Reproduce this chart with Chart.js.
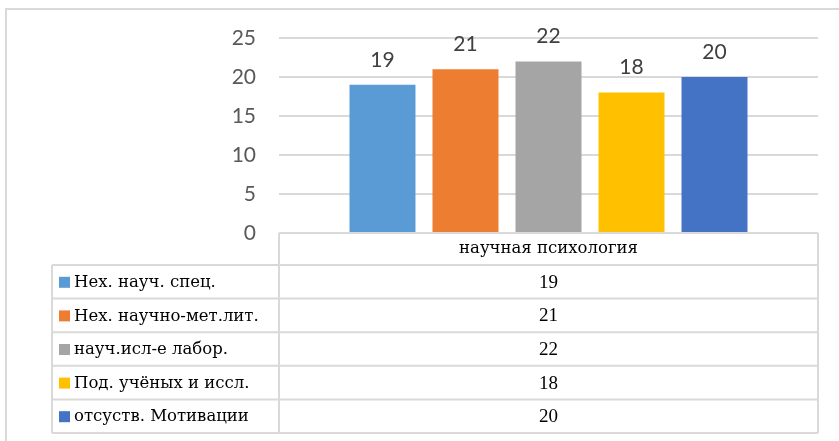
<!DOCTYPE html>
<html>
<head>
<meta charset="utf-8">
<script src="https://cdn.jsdelivr.net/npm/chart.js@4"></script>
<style>
  body { margin: 0; background: #fff; }
  #wrap { position: relative; width: 839px; height: 441px; }
</style>
</head>
<body>
<div id="wrap"><canvas id="myChart" width="839" height="441"></canvas></div>
<script>
// data
const category = ['научная психология'];
const seriesNames = ['Нех. науч. спец.', 'Нех. научно-мет.лит.', 'науч.исл-е лабор.', 'Под. учёных и иссл.', 'отсуств. Мотивации'];
const seriesValues = [19, 21, 22, 18, 20];
const seriesColors = ['#5B9BD5', '#ED7D31', '#A5A5A5', '#FFC000', '#4472C4'];
const yTicks = [0, 5, 10, 15, 20, 25];

const LINE = '#D9D9D9';
const SANS = 'Lato';
// Liberation Serif here has no cyrillic, so words go in DejaVu Serif
const TEXT_FONT = '16.5px "DejaVu Serif"';
const NUM_FONT = '19px "Liberation Serif"';
const LABEL_FONT = '21px ' + SANS;

// value labels above the bars
const valueLabels = {
  id: 'valueLabels',
  afterDatasetsDraw(chart) {
    const ctx = chart.ctx;
    ctx.save();
    ctx.font = LABEL_FONT;
    ctx.fillStyle = '#404040';
    ctx.textAlign = 'center';
    ctx.textBaseline = 'middle';
    chart.data.datasets.forEach((ds, i) => {
      const bar = chart.getDatasetMeta(i).data[0];
      ctx.fillText(String(ds.data[0]), bar.x, bar.y - 25);
    });
    ctx.restore();
  }
};

// outer frame + data table under the plot
const dataTable = {
  id: 'dataTable',
  afterDraw(chart) {
    const ctx = chart.ctx;
    const area = chart.chartArea;
    const left = 52, mid = area.left, right = area.right;
    const top = area.bottom;
    const headH = 32;
    const rowH = 33.6;
    ctx.save();
    ctx.strokeStyle = LINE;
    ctx.lineWidth = 2;

    // outer frame (top and left only visible)
    ctx.beginPath();
    ctx.moveTo(6, 441); ctx.lineTo(6, 9); ctx.lineTo(839, 9);
    ctx.stroke();

    // header cell
    ctx.beginPath();
    ctx.moveTo(mid, top); ctx.lineTo(right, top);
    ctx.moveTo(mid, top); ctx.lineTo(mid, top + headH);
    ctx.moveTo(right, top); ctx.lineTo(right, top + headH);
    ctx.stroke();

    const rows = chart.data.datasets.length;
    const tableBottom = top + headH + rows * rowH;
    ctx.beginPath();
    for (let r = 0; r <= rows; r++) {
      const y = top + headH + r * rowH;
      ctx.moveTo(left, y); ctx.lineTo(right, y);
    }
    ctx.moveTo(left, top + headH); ctx.lineTo(left, tableBottom);
    ctx.moveTo(mid, top + headH); ctx.lineTo(mid, tableBottom);
    ctx.moveTo(right, top + headH); ctx.lineTo(right, tableBottom);
    ctx.stroke();

    ctx.fillStyle = '#000';
    ctx.textBaseline = 'middle';
    const cx = (mid + right) / 2;
    ctx.textAlign = 'center';
    ctx.font = TEXT_FONT;
    ctx.fillText(chart.data.labels[0], cx, top + headH / 2);

    chart.data.datasets.forEach((ds, i) => {
      const cy = top + headH + i * rowH + rowH / 2 + 1;
      ctx.textAlign = 'center';
      ctx.fillStyle = '#000';
      ctx.font = NUM_FONT;
      ctx.fillText(String(ds.data[0]), cx, cy);
      ctx.fillStyle = ds.backgroundColor;
      ctx.fillRect(59, cy - 6, 11, 11);
      ctx.fillStyle = '#000';
      ctx.textAlign = 'left';
      ctx.font = TEXT_FONT;
      ctx.fillText(ds.label, 74, cy);
    });
    ctx.restore();
  }
};

function drawChart() {
  new Chart(document.getElementById('myChart'), {
    type: 'bar',
    data: {
      labels: category,
      datasets: seriesNames.map((name, i) => ({
        label: name,
        data: [seriesValues[i]],
        backgroundColor: seriesColors[i],
        borderWidth: 0,
        categoryPercentage: 0.77,
        barPercentage: 0.795
      }))
    },
    options: {
      responsive: false,
      animation: false,
      layout: { padding: { top: 38, right: 21, left: 0, bottom: 0 } },
      plugins: {
        legend: { display: false },
        tooltip: { enabled: false }
      },
      scales: {
        x: {
          ticks: { display: false },
          grid: { display: false, drawTicks: false },
          border: { display: false },
          afterFit(scale) { scale.height = 208; }
        },
        y: {
          min: 0,
          max: 25,
          afterBuildTicks(scale) { scale.ticks = yTicks.map(v => ({ value: v })); },
          ticks: {
            padding: 23,
            color: '#595959',
            font: { family: SANS, size: 21 }
          },
          grid: { color: LINE, lineWidth: 2, drawTicks: false },
          border: { display: false },
          afterFit(scale) { scale.width = 279; }
        }
      }
    },
    plugins: [valueLabels, dataTable]
  });
}

// make sure the local fonts are ready before painting on the canvas
Promise.all([LABEL_FONT, TEXT_FONT, NUM_FONT].map(f => document.fonts.load(f, 'Нех 19')))
  .catch(() => {})
  .then(drawChart);
</script>
</body>
</html>
